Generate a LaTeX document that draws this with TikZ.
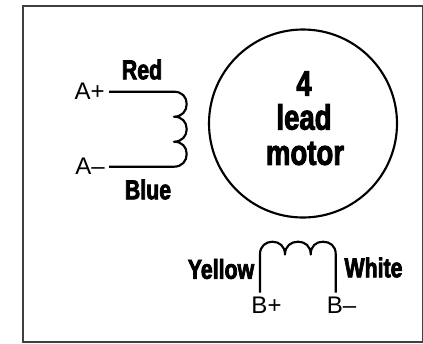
\documentclass[tikz,border=0pt]{standalone}
\usepackage{fontspec}
\setmainfont{Liberation Sans}
\newfontfamily\heavyfont[FakeStretch=0.78,FakeBold=2.6]{Liberation Sans}
\usetikzlibrary{positioning}
\tikzstyle{pin} = [inner sep=0pt, font=\fontsize{18}{20}\selectfont]
\tikzstyle{wire} = [inner sep=0pt, font=\heavyfont\bfseries\fontsize{20.5}{22}\selectfont]
\tikzstyle{title} = [inner sep=0pt, font=\heavyfont\bfseries\fontsize{26.5}{28}\selectfont]
\tikzstyle{lead} = [coordinate]
\tikzstyle{coil} = [line width=1.6pt, line join=round]

\begin{document}
\begin{tikzpicture}[x=0.75pt, y=-0.75pt]
	\useasboundingbox (0,0) rectangle (423,343);
	\node [draw=black!75, line width=1.2pt, minimum width=300pt, minimum height=252pt, inner sep=0pt, anchor=north west] (frame) at (22,5) {};
	\node [circle, draw, line width=1.6pt, minimum size=141pt, inner sep=0pt] (motor) at (303,123.5) {};

	\node [title] (four) at (304,83.5) {4};
	\node [title] (word1) at (304,117) {lead};
	\node [title] (word2) at (305,153.5) {motor};

	\node [lead] (aplus) at (109,91.7) {};
	\node [lead] (aminus) at (109,166.7) {};
	\node [lead] (bplus) at (260,292.5) {};
	\node [lead] (bminus) at (335.7,292.5) {};

	\node [pin, left=3pt of aplus] (pinAp) {A+};
	\node [pin, left=3pt of aminus] (pinAm) {A--};
	\node [pin, anchor=center] (pinBp) at (266.5,305) {B+};
	\node [pin, anchor=center] (pinBm) at (341.5,305) {B--};

	\node [wire] (red) at (142,69.5) {Red};
	\node [wire] (blue) at (148,189.5) {Blue};
	\node [wire] (yellow) at (221,269) {Yellow};
	\node [wire] (white) at (373.5,267.5) {White};

	% coil A
	\draw [coil] (aplus) -- (174,91.7) .. controls (182,91.7) and (186.7,97) .. (186.7,104)
		.. controls (186.7,111) and (182,116.7) .. (174,116.7)
		.. controls (182,116.7) and (186.7,122) .. (186.7,129.2)
		.. controls (186.7,136) and (182,141.7) .. (174,141.7)
		.. controls (182,141.7) and (186.7,147) .. (186.7,154)
		.. controls (186.7,161) and (182,166.7) .. (174,166.7) -- (aminus);

	% coil B
	\draw [coil] (bplus) -- (260,254) .. controls (260,246) and (266,241.7) .. (272.5,241.7)
		.. controls (279,241.7) and (285,246) .. (285,254.5)
		.. controls (285,246) and (291,241.7) .. (298,241.7)
		.. controls (305,241.7) and (310.7,246) .. (310.7,254.5)
		.. controls (310.7,246) and (316,241.7) .. (323,241.7)
		.. controls (330,241.7) and (335.7,246) .. (335.7,254) -- (bminus);
\end{tikzpicture}
\end{document}
